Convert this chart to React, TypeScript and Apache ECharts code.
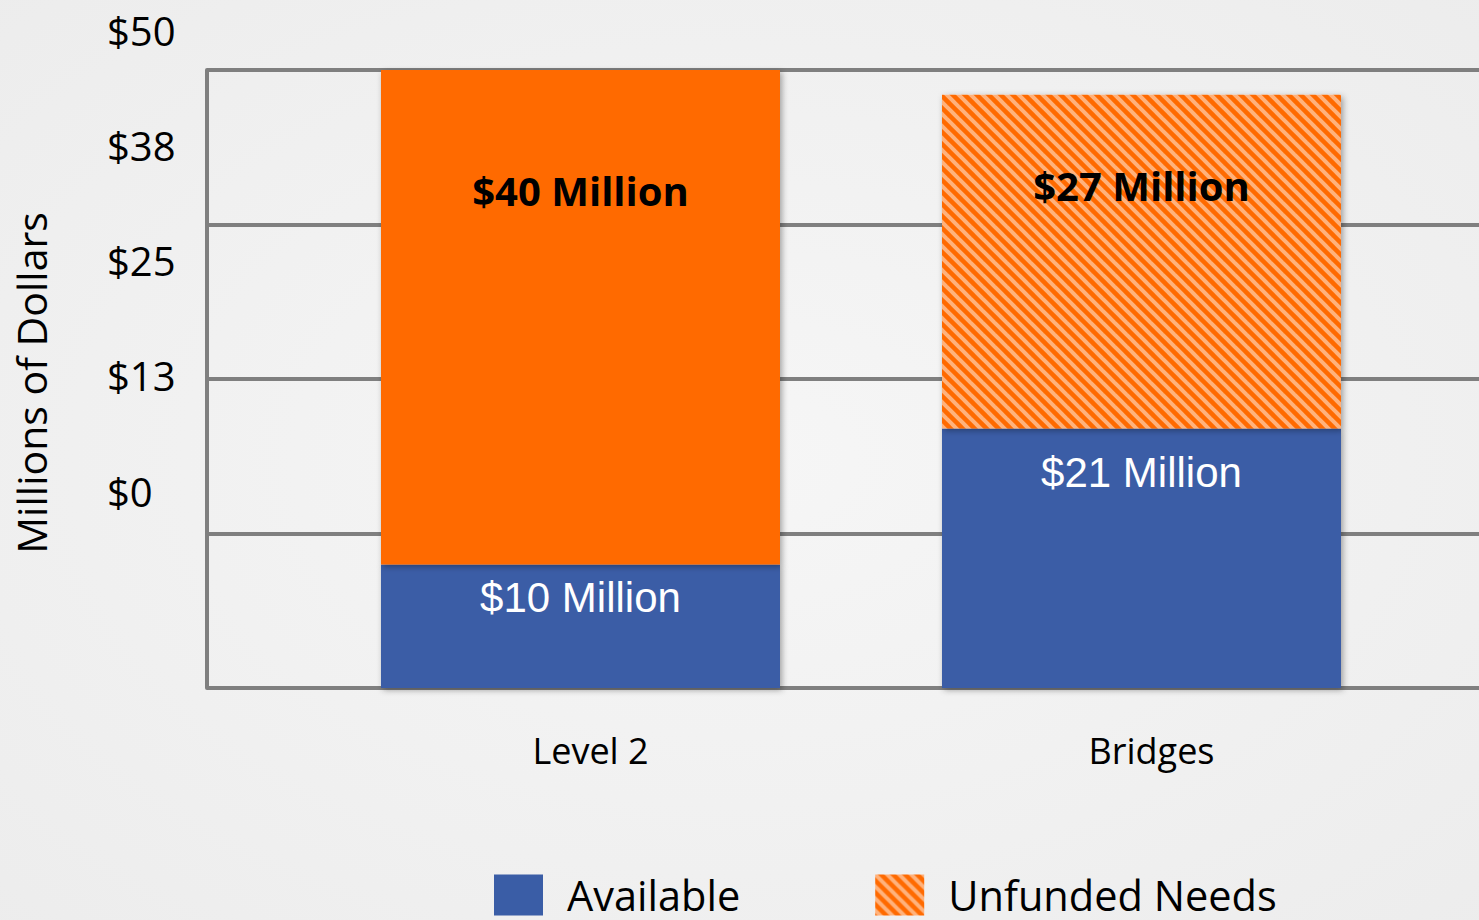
import React, { useEffect, useRef } from "react";
import * as echarts from "echarts";

const categories = ["Level 2", "Bridges"];
const available = [10, 21];
const unfundedNeeds = [40, 27];
const unfundedHatched = [false, true];
const yTickMin = 0;
const yTickMax = 50;
const yTickStep = 12.5;

// layout constants (not data)
const availLabelDist = [12, 23];
const unfundedLabelDist = [100, 71];

const BLUE = "#3A5DA6";
const ORANGE = "#FF6A00";
const STRIPE = "#FFB27C";
const GRID_GRAY = "#7F7F7F";
const SANS = "'Open Sans', 'Noto Sans', sans-serif";

function makeHatch(): HTMLCanvasElement {
  const s = 12;
  const c = document.createElement("canvas");
  c.width = s;
  c.height = s;
  const ctx = c.getContext("2d")!;
  ctx.fillStyle = ORANGE;
  ctx.fillRect(0, 0, s, s);
  ctx.strokeStyle = STRIPE;
  ctx.lineWidth = 4;
  for (const off of [-s, 0, s]) {
    ctx.beginPath();
    ctx.moveTo(off - 2, -2);
    ctx.lineTo(off + s + 2, s + 2);
    ctx.stroke();
  }
  return c;
}

export default function App() {
  const ref = useRef<HTMLDivElement>(null);
  useEffect(() => {
    if (!ref.current) return;
    const chart = echarts.init(ref.current, undefined, { renderer: "svg" });

    const hatch = { image: makeHatch(), repeat: "repeat" };
    const shadow = {
      shadowBlur: 6,
      shadowColor: "rgba(0,0,0,0.35)",
      shadowOffsetX: 2,
      shadowOffsetY: 2,
    };

    const availData = available.map((v, i) => ({
      value: v,
      label: { distance: availLabelDist[i] },
    }));
    const solidData = unfundedNeeds.map((v, i) =>
      unfundedHatched[i] ? "-" : { value: v, label: { distance: unfundedLabelDist[i] } }
    );
    const hatchData = unfundedNeeds.map((v, i) =>
      unfundedHatched[i] ? { value: v, label: { distance: unfundedLabelDist[i] } } : "-"
    );

    const option: any = {
      animation: false,
      backgroundColor: {
        type: "radial",
        x: 0.5,
        y: 0.5,
        r: 0.75,
        colorStops: [
          { offset: 0, color: "#F6F6F6" },
          { offset: 1, color: "#ECECEC" },
        ],
      },
      grid: [
        { left: 207, right: 0, top: 70, bottom: 232 },
        { left: 300, right: 57, top: 70, bottom: 232 },
        { left: 0, width: 100, top: 30, bottom: 429 },
      ],
      xAxis: [
        { type: "value", gridIndex: 0, show: false },
        {
          type: "category",
          gridIndex: 1,
          data: categories,
          axisLine: { show: false },
          axisTick: { show: false },
          axisLabel: {
            fontFamily: SANS,
            fontSize: 36,
            color: "#000",
            margin: 44,
            padding: [0, 0, 0, 20],
          },
        },
        { type: "value", gridIndex: 2, show: false },
      ],
      yAxis: [
        {
          type: "value",
          gridIndex: 0,
          min: yTickMin,
          max: yTickMax,
          interval: yTickStep,
          axisLabel: { show: false },
          axisTick: { show: false },
          axisLine: { show: true, lineStyle: { color: GRID_GRAY, width: 4 } },
          splitLine: { show: true, lineStyle: { color: GRID_GRAY, width: 4 } },
        },
        {
          type: "value",
          gridIndex: 1,
          min: yTickMin,
          max: yTickMax,
          show: false,
        },
        {
          type: "value",
          gridIndex: 2,
          position: "right",
          min: yTickMin,
          max: yTickMax,
          interval: yTickStep,
          axisLine: { show: false },
          axisTick: { show: false },
          splitLine: { show: false },
          axisLabel: {
            margin: 7,
            align: "left",
            fontFamily: SANS,
            fontSize: 40,
            color: "#000",
            formatter: (v: number) => "$" + Math.round(v),
          },
        },
      ],
      legend: {
        left: 494,
        top: 874,
        padding: 0,
        icon: "rect",
        itemWidth: 49,
        itemHeight: 41,
        itemGap: 135,
        data: ["Available", "Unfunded Needs"],
        textStyle: {
          fontFamily: SANS,
          fontSize: 41.5,
          lineHeight: 36,
          color: "#000",
          padding: [0, 0, 0, 19],
        },
      },
      graphic: [
        {
          type: "text",
          x: 31,
          y: 383,
          rotation: Math.PI / 2,
          style: {
            text: "Millions of Dollars",
            fontFamily: SANS,
            fontSize: 41,
            fill: "#000",
            align: "center",
            verticalAlign: "middle",
          },
        },
      ],
      series: [
        {
          name: "Available",
          type: "bar",
          stack: "total",
          xAxisIndex: 1,
          yAxisIndex: 1,
          barWidth: 399,
          data: availData,
          itemStyle: { color: BLUE, ...shadow },
          label: {
            show: true,
            position: "insideTop",
            color: "#fff",
            fontFamily: "'Liberation Sans', Arial, sans-serif",
            fontSize: 42,
            formatter: (p: any) => "$" + p.value + " Million",
          },
        },
        {
          name: "Unfunded (solid)",
          type: "bar",
          stack: "total",
          xAxisIndex: 1,
          yAxisIndex: 1,
          barWidth: 399,
          data: solidData,
          itemStyle: { color: ORANGE, ...shadow },
          label: {
            show: true,
            position: "insideTop",
            color: "#000",
            fontFamily: SANS,
            fontWeight: "bold",
            fontSize: 40,
            formatter: (p: any) => "$" + p.value + " Million",
          },
        },
        {
          name: "Unfunded Needs",
          type: "bar",
          stack: "total",
          xAxisIndex: 1,
          yAxisIndex: 1,
          barWidth: 399,
          data: hatchData,
          itemStyle: { color: hatch, ...shadow },
          label: {
            show: true,
            position: "insideTop",
            color: "#000",
            fontFamily: SANS,
            fontWeight: "bold",
            fontSize: 40,
            formatter: (p: any) => "$" + p.value + " Million",
          },
        },
      ],
    };
    chart.setOption(option);
    return () => chart.dispose();
  }, []);
  return (
    <div
      ref={ref}
      style={{ position: "absolute", left: 0, top: 0, width: 1479, height: 920 }}
    />
  );
}
